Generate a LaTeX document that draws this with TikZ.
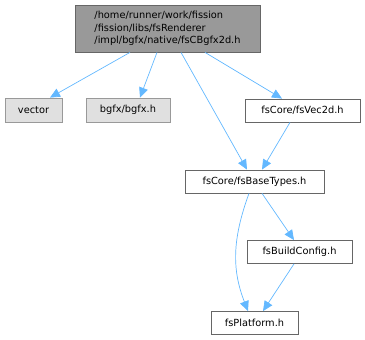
\documentclass[tikz,border=0pt]{standalone}
\usepackage{fontspec}
\setmainfont{DejaVu Sans}
\usepackage{tikz}
\usetikzlibrary{arrows.meta}
\definecolor{edge}{HTML}{63B8FF}
\definecolor{frame}{HTML}{666666}
\definecolor{framelight}{HTML}{999999}

\begin{document}
\begin{tikzpicture}[x=1pt,y=-1pt,font=\fontsize{9.8}{12.5}\selectfont,
    file/.style={draw=frame,fill=white,line width=0.8pt,inner sep=2pt,minimum height=23pt},
    sysfile/.style={draw=framelight,fill=black!12,line width=0.8pt,inner sep=2pt,minimum height=24pt},
    link/.style={draw=edge,line width=0.7pt,-{Triangle[length=10pt,width=9pt]}}]
  \useasboundingbox (0,0) rectangle (365,340);
  % root file
  \node[draw=frame,fill=black!40,line width=0.8pt,minimum width=185pt,minimum height=47pt,
        align=left,inner sep=2pt] (root) at (167.5,28.5)
       {/home/runner/work/fission\\/fission/libs/fsRenderer\\/impl/bgfx/native/fsCBgfx2d.h};
  % included files
  \node[sysfile,minimum width=57pt] (vector) at (33.5,110) {vector};
  \node[sysfile,minimum width=84pt] (bgfx) at (128,110) {bgfx/bgfx.h};
  \node[file,minimum width=115pt] (vec2d) at (302.5,110.5) {fsCore/fsVec2d.h};
  \node[file,minimum width=139pt] (basetypes) at (254.5,181.5) {fsCore/fsBaseTypes.h};
  \node[file,minimum width=105pt] (buildcfg) at (299.5,252) {fsBuildConfig.h};
  \node[file,minimum width=87pt] (platform) at (254.5,323) {fsPlatform.h};
  % includes
  \draw[link] (root.south -| 130,0) -- (vector.north -| 50,0);
  \draw[link] (root.south -| 157,0) -- (bgfx.north -| 140,0);
  \draw[link] (root.south -| 181,0) -- (basetypes.north -| 247,0);
  \draw[link] (root.south -| 205,0) -- (vec2d.north -| 282,0);
  \draw[link] (vec2d.south -| 290,0) -- (basetypes.north -| 262,0);
  \draw[link] (basetypes.south -| 262,0) -- (buildcfg.north -| 294,0);
  \draw[link] (buildcfg.south -| 294,0) -- (platform.north -| 263,0);
  \draw[link] (basetypes.south -| 249,0) .. controls (232,240) and (232,270) .. (platform.north -| 248,0);
\end{tikzpicture}
\end{document}
